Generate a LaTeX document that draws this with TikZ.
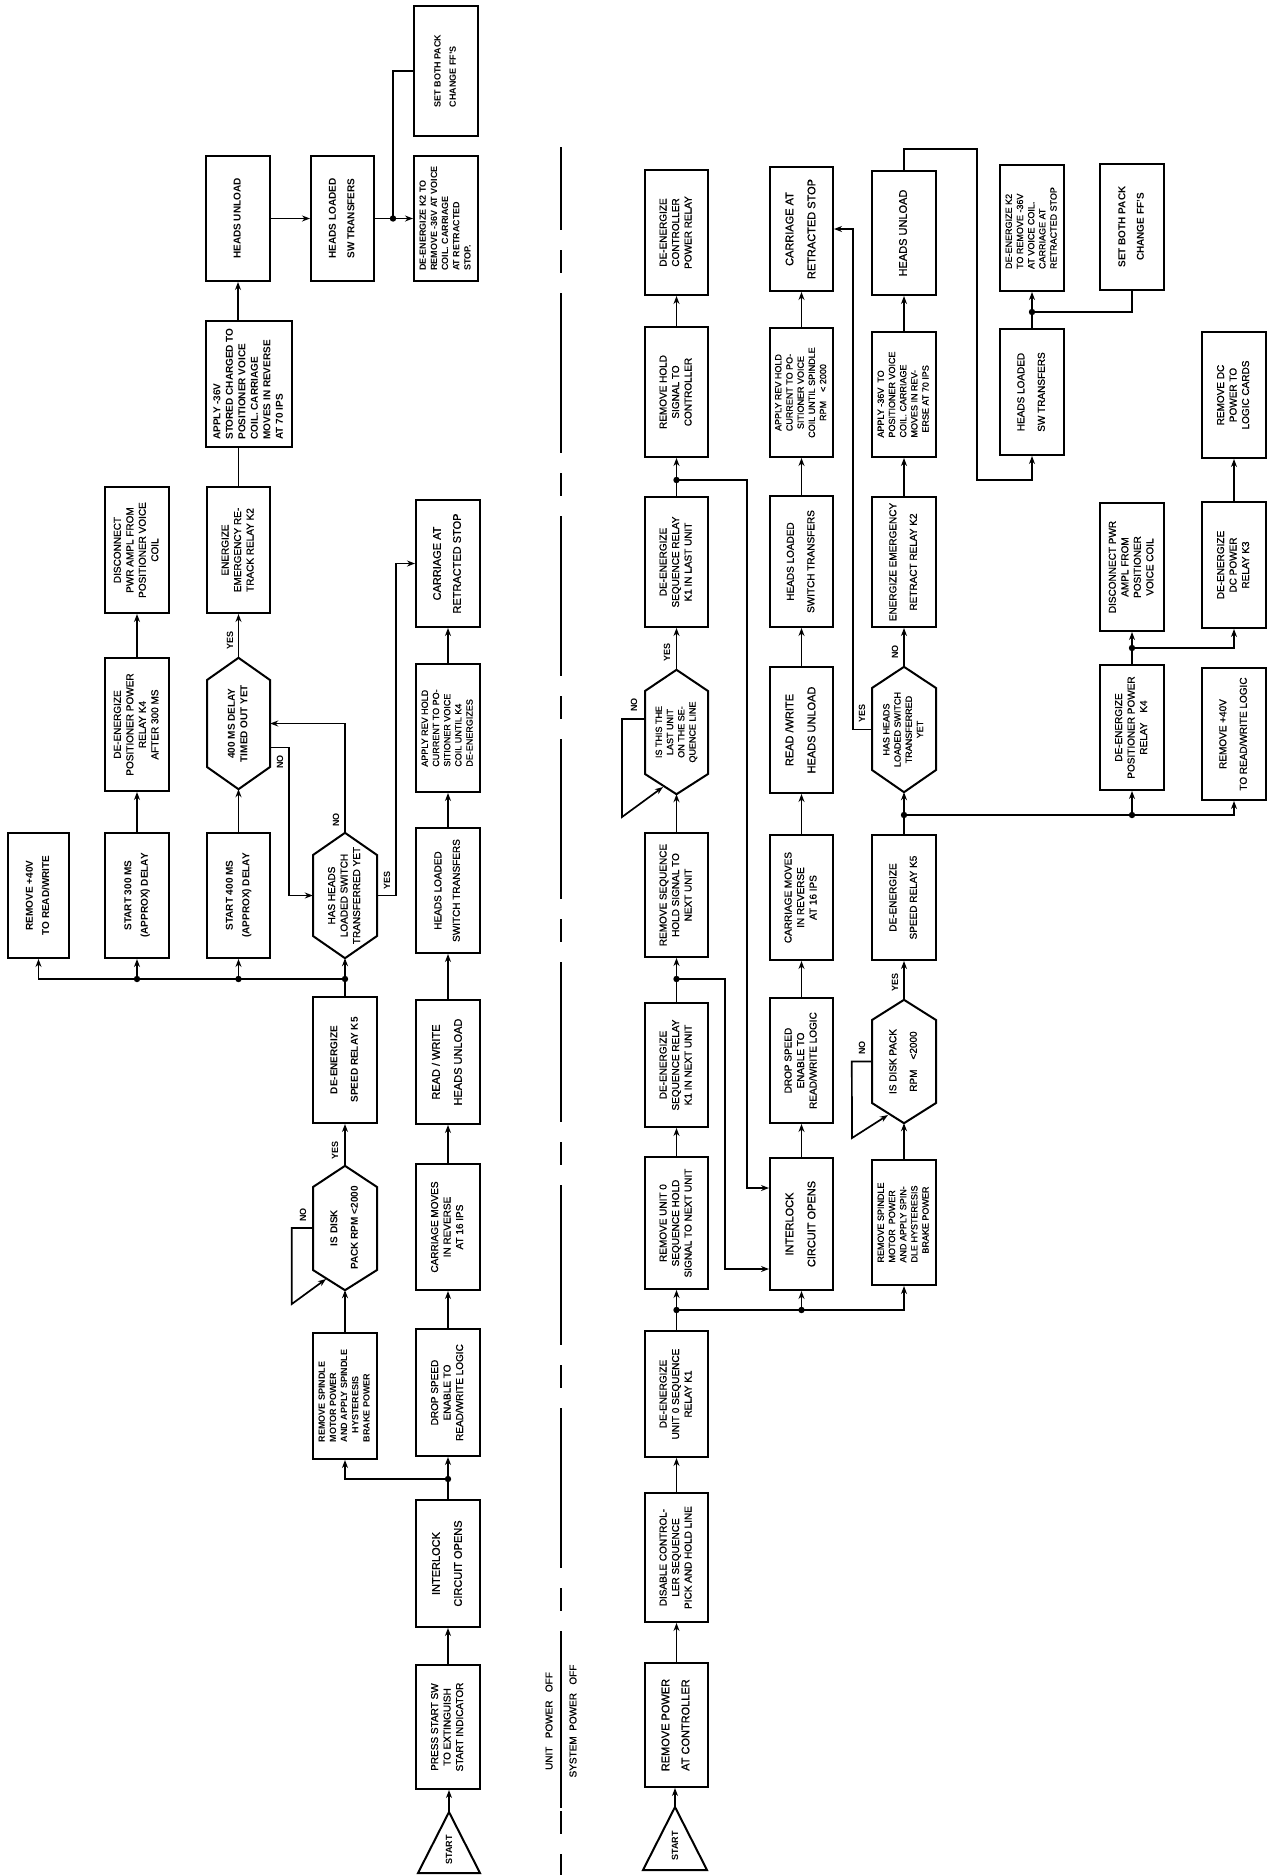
\documentclass[tikz,border=0pt]{standalone}
\usepackage{fontspec}
\setmainfont{Liberation Sans}[UprightFeatures={FakeBold=0.9}]
\usepackage{graphicx}
\usetikzlibrary{arrows.meta}
\newcommand{\tabc}[1]{\begin{tabular}{@{}c@{}}#1\end{tabular}}
\newcommand{\tabl}[1]{\begin{tabular}{@{}l@{}}#1\end{tabular}}
\newcommand{\bx}[7][]{\node[box,#1,minimum width={#5-#3},minimum height={#6-#4}] (#2) at ({(#3+#5)/2},{(#4+#6)/2}) {\rotatebox{90}{#7}};}
\newcommand{\hx}[9][]{\node[hexn,#1,minimum width={#4-#3},minimum height={#8-#5}] (#2) at ({(#3+#4)/2},{(#5+#8)/2}) {\rotatebox{90}{#9}};
 \draw[hexline] (#2.north) -- (#4,#6) -- (#4,#7) -- (#2.south) -- (#3,#7) -- (#3,#6) -- cycle;}
\newcommand{\dotat}[1]{\fill (#1) circle (3.2pt);}
\tikzset{
 box/.style={draw, line width=2pt, rectangle, inner sep=0pt, font=\fontsize{10}{12.5}\selectfont},
 hexn/.style={inner sep=0pt, font=\fontsize{10}{12.5}\selectfont},
 hexline/.style={draw, line width=2pt, line join=miter},
 fbig/.style={font=\fontsize{11}{14}\selectfont},
 fsmall/.style={font=\fontsize{9}{11.2}\selectfont},
 arr/.style={line width=1.7pt, -{Stealth[length=8pt,width=6pt]}},
 ln/.style={line width=1.7pt},
 lbl/.style={inner sep=0pt, font=\fontsize{9}{10}\selectfont\bfseries},
 lbltwo/.style={inner sep=0pt, font=\fontsize{10}{12}\selectfont},
}
\begin{document}
\begin{tikzpicture}[x=1pt,y=-1pt]
\fill[white] (0,0) rectangle (1267,1875);
\useasboundingbox (0,0) rectangle (1267,1875);

% ===== TOP FLOW (UNIT POWER OFF) =====
\bx[fsmall]{SETBOTH}{414}{6}{478}{136}{\tabl{\bfseries SET BOTH PACK\\[4pt]\bfseries CHANGE FF'S}}
\bx[fsmall]{DEKTWO}{414}{156}{478}{281}{\tabl{\bfseries DE-ENERGIZE K2 TO\\\bfseries REMOVE -36V AT VOICE\\\bfseries COIL. CARRIAGE\\\bfseries AT RETRACTED\\\bfseries STOP.}}
\bx{HLSW}{311}{156}{374}{281}{\tabc{\bfseries HEADS LOADED\\[6pt]\bfseries SW TRANSFERS}}
\bx{HUNL}{206}{156}{270}{281}{\tabc{\bfseries HEADS UNLOAD}}
\bx{APPLY}{206}{321}{292}{447}{\tabl{\bfseries APPLY -36V\\\bfseries STORED CHARGED TO\\\bfseries POSITIONER VOICE\\\bfseries COIL. CARRIAGE\\\bfseries MOVES IN REVERSE\\\bfseries AT 70 IPS}}
\bx{DISC}{105}{487}{169}{613}{\tabc{DISCONNECT\\PWR AMPL FROM\\POSITIONER VOICE\\COIL}}
\bx{ENEM}{207}{487}{270}{613}{\tabc{ENERGIZE\\EMERGENCY RE-\\TRACK RELAY K2}}
\bx[fbig]{CARone}{416}{500}{480}{627}{\tabc{CARRIAGE AT\\[6pt]RETRACTED STOP}}
\bx{DEKfour}{105}{658}{169}{791}{\tabc{DE-ENERGIZE\\POSITIONER POWER\\RELAY K4\\AFTER 300 MS}}
\hx{HEXfour}{207}{270}{658}{680}{767}{789}{\tabc{\bfseries 400 MS DELAY\\\bfseries TIMED OUT YET}}
\bx[fsmall]{APREV}{416}{664}{480}{792}{\tabl{APPLY REV HOLD\\CURRENT TO PO-\\SITIONER VOICE\\COIL UNTIL K4\\DE-ENERGIZES}}
\bx{REMforty}{8}{833}{69}{958}{\tabc{\bfseries REMOVE +40V\\[4pt]\bfseries TO READ/WRITE}}
\bx{STthree}{105}{833}{169}{958}{\tabc{\bfseries START 300 MS\\[4pt]\bfseries (APPROX) DELAY}}
\bx{STfour}{207}{833}{270}{958}{\tabc{\bfseries START 400 MS\\[4pt]\bfseries (APPROX) DELAY}}
\hx{HASH}{313}{377}{833}{855}{936}{958}{\tabc{HAS HEADS\\LOADED SWITCH\\TRANSFERRED YET}}
\bx{HLDone}{416}{828}{480}{953}{\tabc{HEADS LOADED\\[6pt]SWITCH TRANSFERS}}
\bx{DESPK}{313}{997}{377}{1123}{\tabc{\bfseries DE-ENERGIZE\\[8pt]\bfseries SPEED RELAY K5}}
\bx[fbig]{RWHU}{416}{1000}{480}{1124}{\tabc{READ / WRITE\\[8pt]HEADS UNLOAD}}
\hx{HEXDISK}{313}{377}{1166}{1187}{1270}{1290}{\tabc{\bfseries IS DISK\\[8pt]\bfseries PACK RPM <2000}}
\bx{CMR}{416}{1164}{480}{1290}{\tabc{CARRIAGE MOVES\\IN REVERSE\\AT 16 IPS}}
\bx[fsmall]{REMSP}{313}{1333}{377}{1459}{\tabl{\bfseries REMOVE SPINDLE\\\bfseries MOTOR POWER\\\bfseries AND APPLY SPINDLE\\\quad\bfseries HYSTERESIS\\\bfseries BRAKE POWER}}
\bx{DROP}{416}{1329}{480}{1456}{\tabc{DROP SPEED\\ENABLE TO\\READ/WRITE LOGIC}}
\bx[fbig]{INTLK}{416}{1500}{480}{1627}{\tabc{INTERLOCK\\[8pt]CIRCUIT OPENS}}
\bx{PRESS}{416}{1665}{480}{1789}{\tabc{PRESS START SW\\TO EXTINGUISH\\START INDICATOR}}
\node[lbl] (stA) at (449,1850) {\rotatebox{90}{START}};
\draw[hexline] (449,1812) -- (480,1873) -- (418,1873) -- cycle;
\coordinate (stAt) at (449,1812);

% top connectors
\draw[arr] (stAt) -- (stAt |- PRESS.south);
\draw[arr] (PRESS.north) -- (INTLK.south);
\draw[arr] (INTLK.north) -- (DROP.south);
\coordinate (jA) at (448,1479);
\draw[arr] (jA) -| (REMSP.south);
\dotat{jA}
\draw[arr] (REMSP.north) -- (HEXDISK.south);
\draw[arr] (HEXDISK.north) -- (DESPK.south);
\draw[arr] (HEXDISK.west) -- ++(-21,0) -- ++(0,76) -- (326,1279);
\draw[arr] (DROP.north) -- (CMR.south);
\draw[arr] (CMR.north) -- (RWHU.south);
\draw[arr] (RWHU.north) -- (HLDone.south);
\draw[arr] (HLDone.north) -- (APREV.south);
\draw[arr] (APREV.north) -- (CARone.south);
\coordinate (jB) at (345,979);
\draw[ln] (DESPK.north) -- (jB);
\draw[arr] (jB) -- (HASH.south);
\draw[arr] (jB) -| (REMforty.south);
\draw[arr] (STthree.south |- jB) -- (STthree.south);
\draw[arr] (STfour.south |- jB) -- (STfour.south);
\dotat{jB}
\dotat{STthree.south |- jB}
\dotat{STfour.south |- jB}
\draw[arr] (STthree.north) -- (DEKfour.south);
\draw[arr] (DEKfour.north) -- (DISC.south);
\draw[arr] (STfour.north) -- (HEXfour.south);
\draw[arr] (HEXfour.north) -- (ENEM.south);
\draw[ln] (ENEM.north) -- (ENEM.north |- APPLY.south);
\draw[arr] (HUNL.south |- APPLY.north) -- (HUNL.south);
\draw[arr] (HUNL.east) -- (HLSW.west);
\coordinate (jC) at (393,218.5);
\draw[arr] (HLSW.east) -- (DEKTWO.west);
\draw[ln] (jC) |- (SETBOTH.west);
\dotat{jC}
\draw[arr] (HASH.north) |- (HEXfour.east);
\draw[arr] ([yshift=-24pt]HEXfour.east) -- ++(19,0) |- (HASH.west);
\draw[arr] (HASH.east) -- ++(19,0) |- (CARone.west);
% top labels
\node[lbl] (yA) at (335,1150) {\rotatebox{90}{YES}};
\node[lbl] (nA) at (303,1215) {\rotatebox{90}{NO}};
\node[lbl] (yB) at (230,640) {\rotatebox{90}{YES}};
\node[lbl] (nB) at (280,762) {\rotatebox{90}{NO}};
\node[lbl] (nC) at (336,820) {\rotatebox{90}{NO}};
\node[lbl] (yC) at (387,880) {\rotatebox{90}{YES}};

% divider
\draw[line width=1.8pt, dash pattern=on 160pt off 20pt on 23pt off 20pt, dash phase=77pt] (561,147) -- (561,1875);
\draw[line width=1.8pt] (561,1645) -- (561,1808);
\node[lbltwo] (upo) at (549,1721) {\rotatebox{90}{UNIT\ \ \ POWER\ \ \ OFF}};
\node[lbltwo] (spo) at (573,1721) {\rotatebox{90}{SYSTEM\ \ POWER\ \ \ OFF}};

% ===== BOTTOM FLOW (SYSTEM POWER OFF) =====
\bx[fbig]{REMPC}{645}{1663}{708}{1787}{\tabc{REMOVE POWER\\[6pt]AT CONTROLLER}}
\bx{DISCTL}{645}{1493}{708}{1622}{\tabc{DISABLE CONTROL-\\LER SEQUENCE\\PICK AND HOLD LINE}}
\bx{DEKone}{645}{1331}{708}{1457}{\tabc{DE-ENERGIZE\\UNIT 0 SEQUENCE\\RELAY K1}}
\bx{REMUO}{645}{1157}{708}{1289}{\tabc{REMOVE UNIT 0\\SEQUENCE HOLD\\SIGNAL TO NEXT UNIT}}
\bx{DEKNX}{645}{1003}{708}{1127}{\tabc{DE-ENERGIZE\\SEQUENCE RELAY\\K1 IN NEXT UNIT}}
\bx{REMSEQ}{645}{833}{708}{957}{\tabc{REMOVE SEQUENCE\\HOLD SIGNAL TO\\NEXT UNIT}}
\hx[fsmall]{HEXLAST}{645}{708}{670}{691}{774}{794}{\tabc{IS THIS THE\\LAST UNIT\\ON THE SE-\\QUENCE LINE}}
\bx{DESEQL}{645}{497}{708}{627}{\tabc{DE-ENERGIZE\\SEQUENCE RELAY\\K1 IN LAST UNIT}}
\bx{REMHOLD}{645}{327}{708}{457}{\tabc{REMOVE HOLD\\SIGNAL TO\\CONTROLLER}}
\bx{DECPR}{645}{170}{708}{295}{\tabc{DE-ENERGIZE\\CONTROLLER\\POWER RELAY}}

\bx[fbig]{INTLKb}{770}{1158}{833}{1290}{\tabc{INTERLOCK\\[8pt]CIRCUIT OPENS}}
\bx{DROPb}{770}{998}{833}{1123}{\tabc{DROP SPEED\\ENABLE TO\\READ/WRITE LOGIC}}
\bx{CMRb}{770}{835}{833}{960}{\tabc{CARRIAGE MOVES\\IN REVERSE\\AT 16 IPS}}
\bx[fbig]{RWHUb}{770}{667}{833}{793}{\tabc{READ /WRITE\\[8pt]HEADS UNLOAD}}
\bx{HLDb}{770}{496}{833}{627}{\tabc{HEADS LOADED\\[8pt]SWITCH TRANSFERS}}
\bx[fsmall]{APREVb}{770}{328}{833}{457}{\tabc{APPLY REV HOLD\\CURRENT TO PO-\\SITIONER VOICE\\COIL UNTIL SPINDLE\\RPM\quad < 2000}}
\bx[fbig]{CARb}{770}{167}{833}{291}{\tabc{CARRIAGE AT\\[8pt]RETRACTED STOP}}

\bx[fsmall]{REMSPb}{872}{1160}{936}{1285}{\tabl{REMOVE SPINDLE\\MOTOR\ \ POWER\\AND APPLY SPIN-\\DLE HYSTERESIS\\\quad BRAKE POWER}}
\hx{HEXDISKb}{872}{936}{1000}{1020}{1103}{1123}{\tabc{IS DISK PACK\\[8pt]RPM\quad <2000}}
\bx{DESPKb}{872}{835}{936}{960}{\tabc{DE-ENERGIZE\\[8pt]SPEED RELAY K5}}
\hx[fsmall]{HASHb}{872}{936}{667}{688}{770}{792}{\tabc{HAS HEADS\\LOADED SWITCH\\TRANSFERRED\\YET}}
\bx{ENEMb}{872}{497}{936}{627}{\tabc{ENERGIZE EMERGENCY\\[8pt]RETRACT RELAY K2}}
\bx[fsmall]{APPLYb}{872}{332}{936}{457}{\tabl{APPLY -36V\ \ TO\\POSITIONER VOICE\\COIL. CARRIAGE\\MOVES IN REV-\\\ \ ERSE AT 70 IPS}}
\bx[fbig]{HUNLb}{872}{171}{936}{295}{\tabc{HEADS UNLOAD}}

\bx{HLDc}{1000}{329}{1064}{455}{\tabc{HEADS LOADED\\[8pt]SW TRANSFERS}}
\bx[fsmall]{DEKtwob}{1000}{165}{1064}{291}{\tabl{DE-ENERGIZE K2\\TO REMOVE -36V\\AT VOICE COIL.\\CARRIAGE AT\\RETRACTED STOP}}
\bx{SETBb}{1100}{164}{1164}{290}{\tabc{\bfseries SET BOTH PACK\\[6pt]\bfseries CHANGE FF'S}}
\bx{DISCbb}{1100}{503}{1164}{631}{\tabc{DISCONNECT PWR\\AMPL FROM\\POSITIONER\\VOICE COIL}}
\bx{DEKfourb}{1100}{665}{1164}{790}{\tabc{DE-ENERGIZE\\POSITIONER POWER\\RELAY\quad K4}}
\bx{REMDC}{1202}{332}{1266}{458}{\tabc{REMOVE DC\\POWER TO\\LOGIC CARDS}}
\bx{DEDC}{1202}{502}{1266}{628}{\tabc{DE-ENERGIZE\\DC POWER\\RELAY K3}}
\bx{REMfortyb}{1202}{668}{1266}{800}{\tabc{REMOVE +40V\\[8pt]TO READ/WRITE LOGIC}}
\node[lbl] (stB) at (675,1846) {\rotatebox{90}{START}};
\draw[hexline] (675,1807) -- (707,1870) -- (643,1870) -- cycle;
\coordinate (stBt) at (675,1807);

% bottom connectors
\draw[arr] (stBt) -- (stBt |- REMPC.south);
\draw[arr] (REMPC.north) -- (DISCTL.south);
\draw[arr] (DISCTL.north) -- (DEKone.south);
\coordinate (jD) at (676.5,1310);
\draw[arr] (DEKone.north) -- (REMUO.south);
\draw[arr] (jD) -| (REMSPb.south);
\draw[arr] (INTLKb.south |- jD) -- (INTLKb.south);
\dotat{jD}
\dotat{INTLKb.south |- jD}
\draw[arr] (REMUO.north) -- (DEKNX.south);
\coordinate (jE) at (676.5,979);
\draw[arr] (DEKNX.north) -- (REMSEQ.south);
\draw[arr] (jE) -- (725,979) |- (INTLKb.west |- 0,1269);
\dotat{jE}
\draw[arr] (REMSEQ.north) -- (HEXLAST.south);
\draw[arr] (HEXLAST.north) -- (DESEQL.south);
\draw[arr] (HEXLAST.west |- 0,719) -- (622,719) -- (622,817) -- (663,787);
\coordinate (jF) at (676.5,480);
\draw[arr] (DESEQL.north) -- (REMHOLD.south);
\draw[arr] (jF) -- (747,480) |- (INTLKb.west |- 0,1188);
\dotat{jF}
\draw[arr] (REMHOLD.north) -- (DECPR.south);
\draw[arr] (INTLKb.north) -- (DROPb.south);
\draw[arr] (DROPb.north) -- (CMRb.south);
\draw[arr] (CMRb.north) -- (RWHUb.south);
\draw[arr] (RWHUb.north) -- (HLDb.south);
\draw[arr] (HLDb.north) -- (APREVb.south);
\draw[arr] (APREVb.north) -- (CARb.south);
\draw[arr] (REMSPb.north) -- (HEXDISKb.south);
\draw[arr] (HEXDISKb.north) -- (DESPKb.south);
\draw[arr] (HEXDISKb.west) -- ++(-20,0) -- (852,1138) -- (888,1115);
\coordinate (jG) at (904,815);
\draw[arr] (DESPKb.north) -- (HASHb.south);
\draw[arr] (jG) -| (REMfortyb.south);
\draw[arr] (DEKfourb.south |- jG) -- (DEKfourb.south);
\dotat{jG}
\dotat{DEKfourb.south |- jG}
\draw[arr] (HASHb.west) -- ++(-19,0) |- (CARb.east);
\draw[arr] (HASHb.north) -- (ENEMb.south);
\draw[arr] (ENEMb.north) -- (APPLYb.south);
\draw[arr] (APPLYb.north) -- (HUNLb.south);
\draw[arr] (HUNLb.north) -- (904,149) -- (977,149) -- (977,480) -| (HLDc.south);
\coordinate (jH) at (1032,312);
\draw[arr] (HLDc.north) -- (DEKtwob.south);
\draw[ln] (jH) -| (SETBb.south);
\dotat{jH}
\coordinate (jI) at (1132,648);
\draw[arr] (DEKfourb.north) -- (DISCbb.south);
\draw[arr] (jI) -| (DEDC.south);
\dotat{jI}
\draw[arr] (DEDC.north) -- (REMDC.south);
% bottom labels
\node[lbl] (yD) at (667,652) {\rotatebox{90}{YES}};
\node[lbl] (nD) at (634,705) {\rotatebox{90}{NO}};
\node[lbl] (yE) at (895,982) {\rotatebox{90}{YES}};
\node[lbl] (nE) at (862,1048) {\rotatebox{90}{NO}};
\node[lbl] (yF) at (862,713) {\rotatebox{90}{YES}};
\node[lbl] (nF) at (895,652) {\rotatebox{90}{NO}};
\end{tikzpicture}
\end{document}
